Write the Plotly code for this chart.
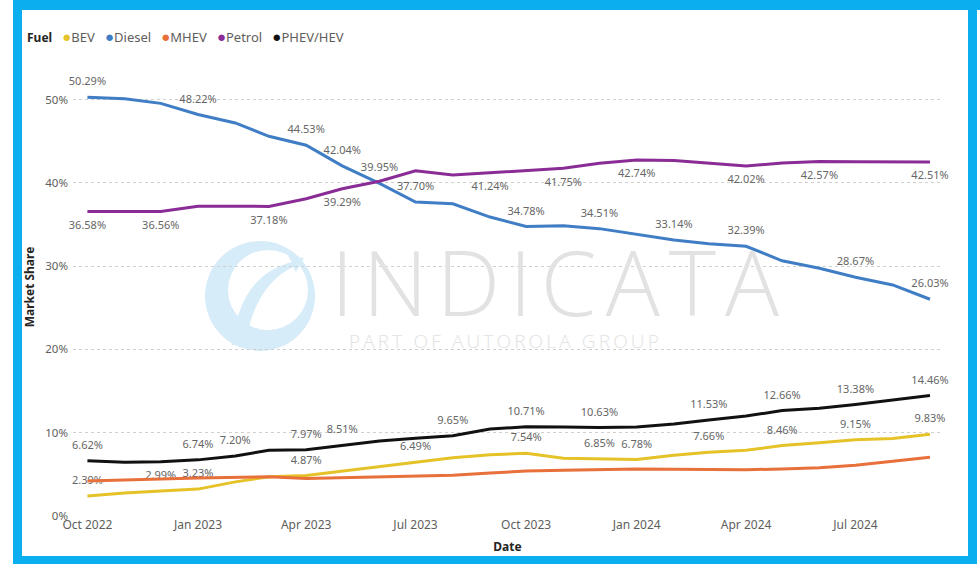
import plotly.graph_objects as go

# monthly market share by fuel type, Oct 2022 - Sep 2024
months = ['2022-10-01', '2022-11-01', '2022-12-01', '2023-01-01', '2023-02-01', '2023-03-01',
          '2023-04-01', '2023-05-01', '2023-06-01', '2023-07-01', '2023-08-01', '2023-09-01',
          '2023-10-01', '2023-11-01', '2023-12-01', '2024-01-01', '2024-02-01', '2024-03-01',
          '2024-04-01', '2024-05-01', '2024-06-01', '2024-07-01', '2024-08-01', '2024-09-01']

bev = [2.39, 2.75, 2.99, 3.23, 4.1, 4.7, 4.87, 5.4, 5.9, 6.49, 7.0, 7.35,
       7.54, 6.95, 6.85, 6.78, 7.3, 7.66, 7.9, 8.46, 8.8, 9.15, 9.3, 9.83]
diesel = [50.29, 50.1, 49.55, 48.22, 47.2, 45.6, 44.53, 42.04, 39.95, 37.70, 37.5, 35.9,
          34.78, 34.85, 34.51, 33.85, 33.14, 32.7, 32.39, 30.65, 29.75, 28.67, 27.75, 26.03]
mhev = [4.2, 4.35, 4.45, 4.55, 4.6, 4.7, 4.5, 4.6, 4.7, 4.8, 4.9, 5.15,
        5.4, 5.5, 5.6, 5.65, 5.6, 5.55, 5.55, 5.65, 5.8, 6.1, 6.6, 7.05]
petrol = [36.58, 36.6, 36.56, 37.2, 37.2, 37.18, 38.1, 39.29, 40.2, 41.45, 40.95, 41.24,
          41.5, 41.75, 42.35, 42.74, 42.7, 42.35, 42.02, 42.4, 42.57, 42.55, 42.5, 42.51]
phev = [6.62, 6.45, 6.5, 6.74, 7.20, 7.9, 7.97, 8.51, 9.0, 9.35, 9.65, 10.45,
        10.71, 10.7, 10.63, 10.7, 11.05, 11.53, 12.0, 12.66, 12.95, 13.38, 13.9, 14.46]

# which months carry a data label
bev_lbl = [0, 2, 3, 6, 9, 12, 14, 15, 17, 19, 21, 23]
diesel_lbl = [0, 3, 6, 7, 8, 9, 12, 14, 16, 18, 21, 23]
mhev_lbl = []
petrol_lbl = [0, 2, 5, 7, 11, 13, 15, 18, 20, 23]
phev_lbl = [0, 3, 4, 6, 7, 10, 12, 14, 17, 19, 21, 23]

series = [
    ('BEV', bev, bev_lbl, '#E6C229', 'top center'),
    ('Diesel', diesel, diesel_lbl, '#3F7DC5', 'top center'),
    ('MHEV', mhev, mhev_lbl, '#E8703A', 'top center'),
    ('Petrol', petrol, petrol_lbl, '#8A2C96', 'bottom center'),
    ('PHEV/HEV', phev, phev_lbl, '#111111', 'top center'),
]

FONT = 'Segoe UI, Noto Sans, Open Sans, sans-serif'
GREY = '#605E5C'
DARK = '#252423'

fig = go.Figure()
for name, vals, lbl, col, pos in series:
    txt = [f'{v:.2f}%' if i in lbl else '' for i, v in enumerate(vals)]
    fig.add_trace(go.Scatter(
        x=months, y=vals, mode='lines+markers+text', name=name,
        line=dict(color=col, width=3),
        # invisible markers only push the labels off the line a bit
        marker=dict(size=13, color=col, opacity=0),
        text=txt, textposition=pos,
        textfont=dict(family=FONT, size=11, color='#666666'),
        showlegend=False, cliponaxis=False, hoverinfo='x+y+name'))

# page geometry (pixels)
W, H = 980, 564
L, R, T, B = 73, 38, 58, 48
pw, ph = W - L - R, H - T - B


def px(x):
    return (x - L) / pw


def py(y):
    return (H - B - y) / ph


shapes = []
# cyan frame
frame = '#0BAEEF'
for x0, y0, x1, y1 in [(13, 0, 980, 10), (13, 0, 22, 564), (968, 0, 977, 564), (13, 556, 977, 564)]:
    shapes.append(dict(type='rect', xref='paper', yref='paper',
                       x0=px(x0), x1=px(x1), y0=py(y1), y1=py(y0),
                       fillcolor=frame, line=dict(width=0), layer='above'))
# watermark logo
shapes.append(dict(type='circle', xref='paper', yref='paper',
                   x0=px(205), x1=px(315), y0=py(351), y1=py(241),
                   fillcolor='#D6ECF8', line=dict(width=0), layer='below'))
shapes.append(dict(type='circle', xref='paper', yref='paper',
                   x0=px(228), x1=px(308), y0=py(330), y1=py(250),
                   fillcolor='white', line=dict(width=0), layer='below'))
shapes.append(dict(type='path', xref='paper', yref='paper', layer='below',
                   path=f'M {px(232)} {py(345)} Q {px(240)} {py(275)} {px(292)} {py(262)} '
                        f'L {px(288)} {py(256)} L {px(304)} {py(258)} L {px(296)} {py(272)} '
                        f'L {px(293)} {py(267)} Q {px(255)} {py(285)} {px(245)} {py(345)} Z',
                   fillcolor='#D6ECF8', line=dict(width=0)))

# legend row, drawn like the Power BI one (dots tight against the names)
legend_txt = f"<span style='color:{DARK};font-size:12px'><b>Fuel</b></span>\u00A0\u00A0\u00A0" + '\u00A0\u00A0\u00A0'.join(
    f"<span style='color:{col};font-size:15px'>\u25CF</span>{name}" for name, _, _, col, _ in series)

annotations = [
    dict(text=legend_txt, xref='paper', yref='paper', x=px(25), y=py(36),
         xanchor='left', yanchor='middle', showarrow=False,
         font=dict(family=FONT, size=13, color=GREY)),
    dict(text='\u200A'.join('INDICATA'), xref='paper', yref='paper', x=px(555), y=py(281),
         showarrow=False, font=dict(family='Open Sans, sans-serif', size=90, color='#E2E2E2', weight=300)),
    dict(text='\u2009'.join('PART OF AUTOROLA GROUP'), xref='paper', yref='paper',
         x=px(504), y=py(341), showarrow=False,
         font=dict(family='Open Sans, sans-serif', size=19, color='#E2E2E2', weight=300)),
]

fig.update_layout(
    width=W, height=H,
    margin=dict(l=L, r=R, t=T, b=B),
    paper_bgcolor='white', plot_bgcolor='white',
    font=dict(family=FONT, size=12, color=GREY),
    shapes=shapes, annotations=annotations,
    showlegend=False,
    xaxis=dict(
        type='date', range=['2022-09-19', '2024-09-11'],
        tick0='2022-10-01', dtick='M3', tickformat='%b %Y',
        showgrid=False, zeroline=False, showline=False, ticks='',
        tickfont=dict(family=FONT, size=12, color=GREY),
        title=dict(text='<b>Date</b>', font=dict(family=FONT, size=12, color=DARK), standoff=10)),
    yaxis=dict(
        range=[0, 55], dtick=10, ticksuffix='%',
        showgrid=True, gridcolor='#D0D0D0', griddash='dot', gridwidth=1,
        zeroline=False, showline=False, ticks='', ticklabelstandoff=4,
        tickfont=dict(family=FONT, size=11.5, color=GREY),
        title=dict(text='<b>Market Share</b>', font=dict(family=FONT, size=12, color=DARK), standoff=8)),
)

fig.write_html('out.html', config={'displayModeBar': False},
               post_script="document.body.style.margin='0px';")
